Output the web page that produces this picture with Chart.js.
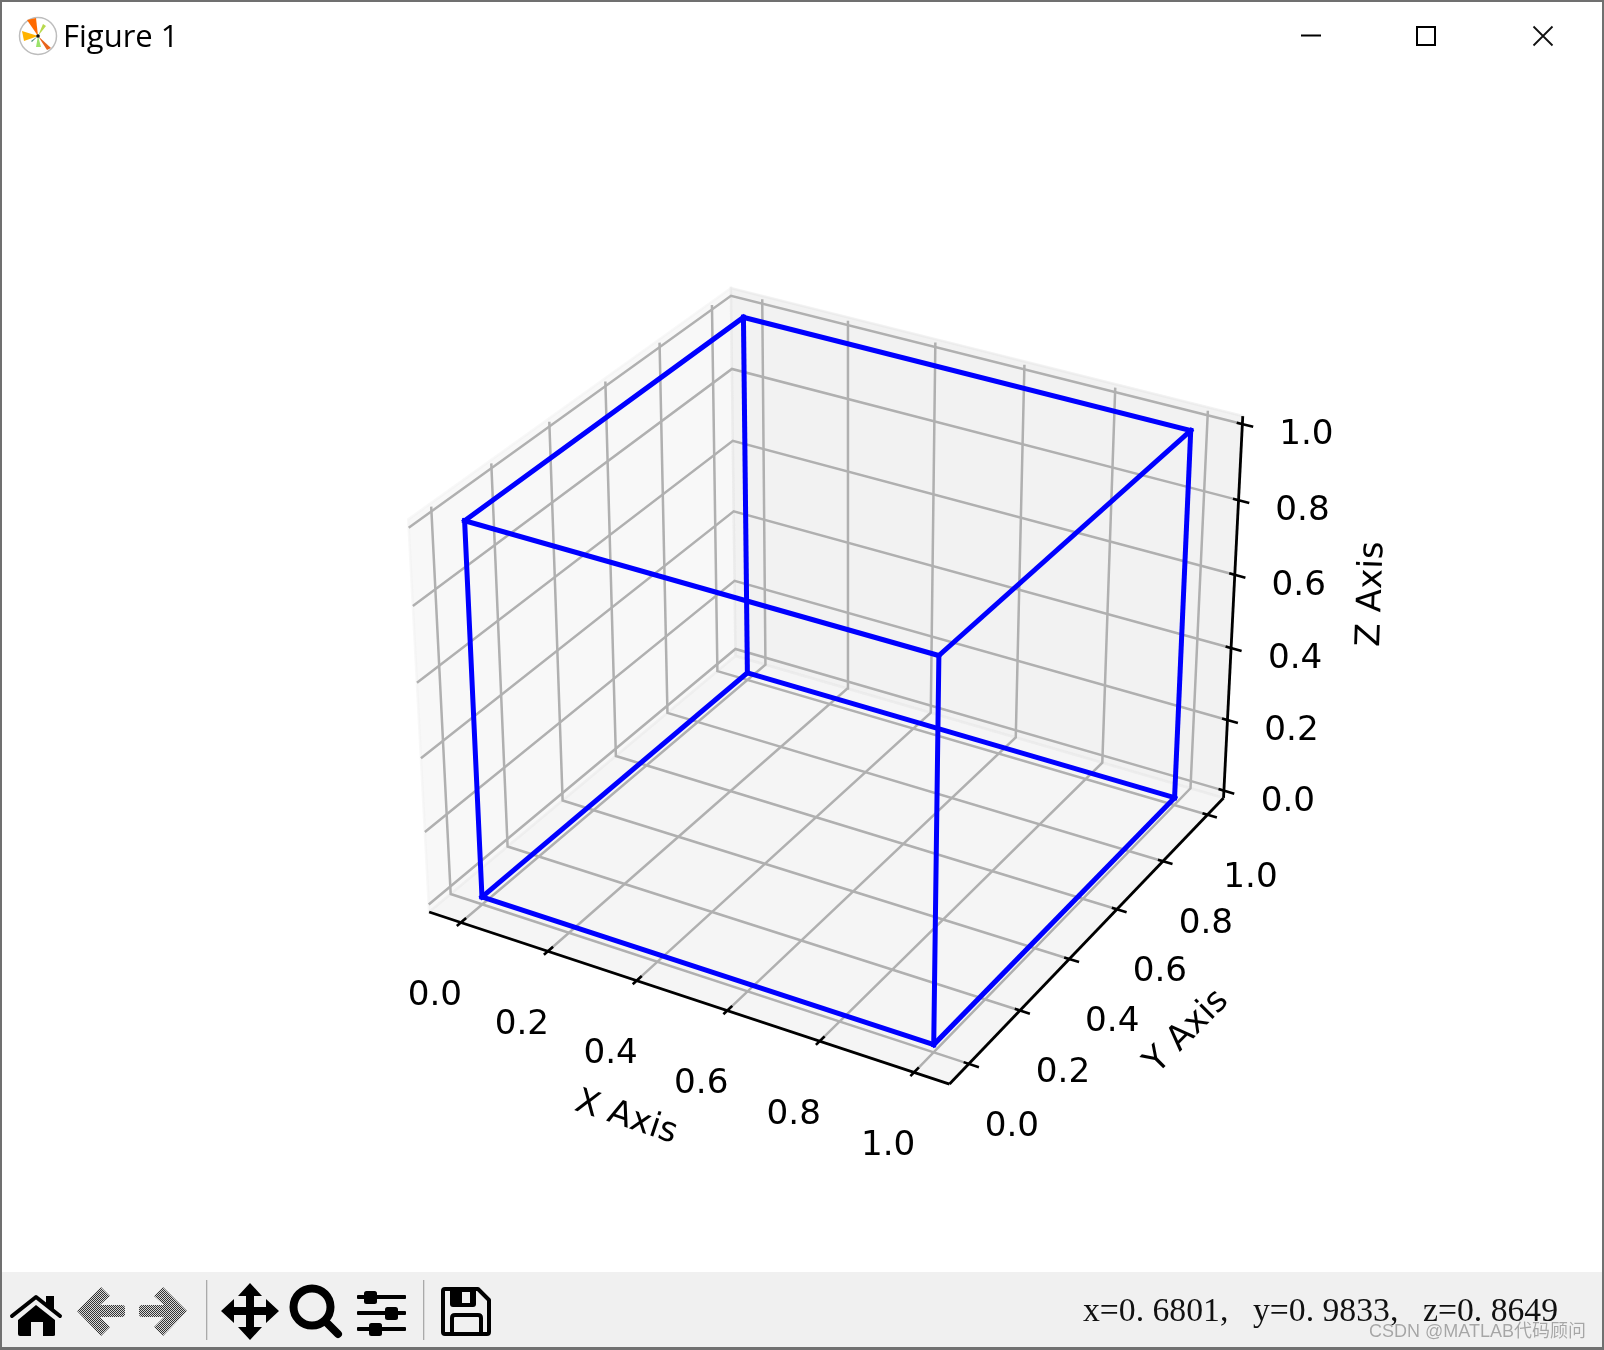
<!DOCTYPE html>
<html>
<head>
<meta charset="utf-8">
<title>Figure 1</title>
<script src="https://cdn.jsdelivr.net/npm/chart.js@4"></script>
<style>
html,body{margin:0;padding:0;background:#fff;width:1604px;height:1350px;overflow:hidden}
#wrap{position:relative;width:1604px;height:1350px;background:#fff}
#c{position:absolute;left:0;top:0;z-index:1}
.t{position:absolute;white-space:pre;z-index:3}
#toolbar{position:absolute;left:0;top:1272px;width:1604px;height:76px;background:#f0f0f0;z-index:0}
#frame{position:absolute;left:0;top:0;width:1604px;height:1350px;box-sizing:border-box;border:2px solid #707070;border-bottom-width:3px;z-index:2}
svg{position:absolute;left:0;top:0;z-index:3}
</style>
</head>
<body>
<div id="wrap">
<div id="toolbar"></div>
<canvas id="c" width="1604" height="1350"></canvas>
<div id="frame"></div>
<svg width="1604" height="1350" viewBox="0 0 1604 1350" xmlns="http://www.w3.org/2000/svg">
  <defs>
    <pattern id="dith" width="2" height="2" patternUnits="userSpaceOnUse">
      <rect width="2" height="2" fill="#d8d8d8"/><rect width="1" height="1" fill="#333"/><rect x="1" y="1" width="1" height="1" fill="#333"/>
    </pattern>
  </defs>
  <!-- app icon -->
  <circle cx="38" cy="36" r="18.5" fill="#fff" stroke="#bdbdbd" stroke-width="1.5"/>
  <path d="M38 36 L27 20 L36 18 Z" fill="#ff6a00"/>
  <path d="M38 36 L22 31 L24 41 Z" fill="#ffb300"/>
  <path d="M38 36 L51 48 L47 50 Z" fill="#e8641b"/>
  <path d="M38 36 L43 24 L46 26 Z" fill="#b7d94c"/>
  <path d="M38 36 L36 47 L41 47 Z" fill="#9be36b"/>
  <path d="M38 36 L31 41 L32 42 Z" fill="#4a8f7b"/>
  <circle cx="38" cy="36" r="1.8" fill="#111"/>
  <!-- window buttons -->
  <rect x="1301" y="34.5" width="20" height="2" fill="#000"/>
  <rect x="1417" y="27" width="18" height="18" fill="none" stroke="#000" stroke-width="2"/>
  <path d="M1533.5 26.5 L1552.5 45.5 M1552.5 26.5 L1533.5 45.5" stroke="#111" stroke-width="1.8" fill="none"/>
  <!-- home -->
  <path d="M12 1316 L36 1297 L60 1316" fill="none" stroke="#000" stroke-width="4" stroke-linecap="round" stroke-linejoin="round"/>
  <path d="M18 1320 L36 1305 L55 1320 L55 1335 Q55 1336 53 1336 L43 1336 L43 1322 L31 1322 L31 1336 L20 1336 Q18 1336 18 1334 Z M46 1296 L54 1296 L54 1312 L46 1305 Z" fill="#000"/>
  <!-- back / forward -->
  <path d="M77 1311 L101 1287 L110 1296 L100 1305 L122 1305 Q125 1305 125 1308 L125 1314 Q125 1317 122 1317 L100 1317 L110 1327 L101 1336 Z" fill="url(#dith)"/>
  <path d="M187 1311 L163 1287 L154 1296 L164 1305 L142 1305 Q139 1305 139 1308 L139 1314 Q139 1317 142 1317 L164 1317 L154 1327 L163 1336 Z" fill="url(#dith)"/>
  <rect x="206" y="1280" width="1.3" height="60" fill="#aaa"/>
  <!-- move -->
  <path d="M250 1283 L262 1296 L254 1296 L254 1307 L266 1307 L266 1299 L279 1311 L266 1323 L266 1315 L254 1315 L254 1327 L262 1327 L250 1340 L238 1327 L246 1327 L246 1315 L234 1315 L234 1323 L221 1311 L234 1299 L234 1307 L246 1307 L246 1296 L238 1296 Z" fill="#000"/>
  <!-- zoom -->
  <circle cx="312" cy="1307" r="18.5" fill="none" stroke="#000" stroke-width="8"/>
  <path d="M327 1323 L338 1334" stroke="#000" stroke-width="8" stroke-linecap="round"/>
  <!-- sliders -->
  <g fill="#000">
    <rect x="357" y="1295" width="49" height="4" rx="1"/><rect x="364" y="1291" width="13" height="13" rx="2.5"/>
    <rect x="357" y="1311" width="49" height="4" rx="1"/><rect x="385" y="1307" width="13" height="13" rx="2.5"/>
    <rect x="357" y="1327" width="49" height="4" rx="1"/><rect x="369" y="1323" width="13" height="13" rx="2.5"/>
  </g>
  <rect x="423" y="1280" width="1.3" height="60" fill="#aaa"/>
  <!-- save -->
  <path d="M445 1289 L478 1289 L489 1300 L489 1332 Q489 1334 487 1334 L445 1334 Q443 1334 443 1332 L443 1291 Q443 1289 445 1289 Z" fill="none" stroke="#000" stroke-width="4" stroke-linejoin="round"/>
  <path d="M450 1289 L476 1289 L476 1304 Q476 1307 473 1307 L453 1307 Q450 1307 450 1304 Z" fill="#000"/>
  <rect x="462" y="1292" width="8" height="11" fill="#f0f0f0"/>
  <path d="M452 1334 L452 1318 Q452 1315 455 1315 L478 1315 Q481 1315 481 1318 L481 1334" fill="none" stroke="#000" stroke-width="4"/>
</svg>
<div class="t" style="left:63px;top:14px;font:31px/43px 'Open Sans',sans-serif;color:#000">Figure 1</div>
<div class="t" style="left:1083px;top:1290px;font:33.7px/40px 'Liberation Serif',serif;color:#111">x=0. 6801,</div>
<div class="t" style="left:1253px;top:1290px;font:33.7px/40px 'Liberation Serif',serif;color:#111">y=0. 9833,</div>
<div class="t" style="left:1423px;top:1290px;font:33.7px/40px 'Liberation Serif',serif;color:#111">z=0. 8649</div>
<div class="t" style="left:1369px;top:1318px;font:18px/26px 'Liberation Sans','Noto Sans CJK SC',sans-serif;color:rgba(150,150,150,.85);text-shadow:0 0 1px rgba(255,255,255,.9)">CSDN @MATLAB代码顾问</div>
</div>

<script>
// ---- values (data coordinates) ----
const xTicks = [0, 0.2, 0.4, 0.6, 0.8, 1];
const yTicks = [0, 0.2, 0.4, 0.6, 0.8, 1];
const zTicks = [0, 0.2, 0.4, 0.6, 0.8, 1];
const tickLabels = ['0.0', '0.2', '0.4', '0.6', '0.8', '1.0'];
const cubeVertexX = [0, 1, 1, 0, 0, 1, 1, 0];
const cubeVertexY = [0, 0, 1, 1, 0, 0, 1, 1];
const cubeVertexZ = [0, 0, 0, 0, 1, 1, 1, 1];
const cubeEdgeStart = [0, 1, 2, 3, 4, 5, 6, 7, 0, 1, 2, 3];
const cubeEdgeEnd   = [1, 2, 3, 0, 5, 6, 7, 4, 4, 5, 6, 7];
const axisTitles = ['X Axis', 'Y Axis', 'Z Axis'];

// ---- axes box limits ----
const xMin = -0.074, xMax = 1.074, yMin = -0.074, yMax = 1.074, zMin = -0.0208, zMax = 1.0208;
const zGridTop = 1.012;

// ---- camera: elevation 30, azimuth -60, distance 10 ----
const CAM = {scale: 454, ox: 834.4, oy: 665, kxy: 1.1428, kz: 0.9448, dist: 10};
const u = [0.8660254, 0.5, 0], v = [-0.25, 0.4330127, 0.8660254], w = [0.4330127, -0.75, 0.5];
function project(x, y, z) {
  const X = (x - 0.5) * CAM.kxy, Y = (y - 0.5) * CAM.kxy, Z = (z - 0.5) * CAM.kz;
  const xc = u[0]*X + u[1]*Y + u[2]*Z;
  const yc = v[0]*X + v[1]*Y + v[2]*Z;
  const dc = w[0]*X + w[1]*Y + w[2]*Z;
  const d = CAM.dist - dc;
  return {x: CAM.ox + CAM.scale * xc * CAM.dist / d, y: CAM.oy - CAM.scale * yc * CAM.dist / d};
}
const path = pts => pts.map(p => project(p[0], p[1], p[2]));

const layers = []; // painted in this order
function pane(pts, rgba) {
  const closed = pts.concat([pts[0]]);
  layers.push({data: path(closed), showLine: true, fill: 'shape', backgroundColor: rgba,
    borderColor: rgba, borderWidth: 2.5, pointRadius: 0, tension: 0});
}
function line(pts, color, width, cap) {
  layers.push({data: path(pts), showLine: true, fill: false, borderColor: color, borderWidth: width,
    borderCapStyle: cap || 'butt', borderJoinStyle: 'miter', pointRadius: 0, tension: 0});
}

pane([[xMin,yMin,zMin],[xMin,yMax,zMin],[xMin,yMax,zMax],[xMin,yMin,zMax]], 'rgba(242,242,242,0.5)');
pane([[xMin,yMax,zMin],[xMax,yMax,zMin],[xMax,yMax,zMax],[xMin,yMax,zMax]], 'rgba(230,230,230,0.5)');
pane([[xMin,yMin,zMin],[xMax,yMin,zMin],[xMax,yMax,zMin],[xMin,yMax,zMin]], 'rgba(236,236,236,0.5)');

const GRID = '#b0b0b0';
xTicks.forEach(t => line([[t,yMin,zMin],[t,yMax,zMin],[t,yMax,zGridTop]], GRID, 2.5));
yTicks.forEach(t => line([[xMax,t,zMin],[xMin,t,zMin],[xMin,t,zGridTop]], GRID, 2.5));
zTicks.forEach(t => line([[xMax,yMax,t],[xMin,yMax,t],[xMin,yMin,t]], GRID, 2.5));

line([[xMin,yMin,zMin],[xMax,yMin,zMin]], '#000', 2.8);
line([[xMax,yMin,zMin],[xMax,yMax,zMin]], '#000', 2.8);
line([[xMax,yMax,zMin],[xMax,yMax,zMax]], '#000', 2.8);
xTicks.forEach(t => line([[t,yMin-0.014,zMin],[t,yMin+0.018,zMin]], '#000', 2.6));
yTicks.forEach(t => line([[xMax-0.011,t,zMin],[xMax+0.021,t,zMin]], '#000', 2.6));
zTicks.forEach(t => line([[xMax-0.012,yMax,t],[xMax+0.023,yMax,t]], '#000', 2.6));

cubeEdgeStart.forEach((a, i) => {
  const b = cubeEdgeEnd[i];
  line([[cubeVertexX[a],cubeVertexY[a],cubeVertexZ[a]],[cubeVertexX[b],cubeVertexY[b],cubeVertexZ[b]]], '#0000ff', 5, 'square');
});

const FONT = "34.2px 'DejaVu Sans'";
const labelsPlugin = {
  id: 'axes3dText',
  afterDraw(chart) {
    const c = chart.ctx;
    c.save();
    c.fillStyle = '#000';
    c.font = FONT;
    c.textAlign = 'center';
    c.textBaseline = 'middle';
    const put = (s, px, py, rot) => {
      c.save(); c.translate(px, py); c.rotate((rot || 0) * Math.PI / 180);
      c.fillText(s, 0, 0); c.restore();
    };
    xTicks.forEach((t, i) => { const p = project(t, yMin, zMin); put(tickLabels[i], p.x - 26, p.y + 73.5); });
    yTicks.forEach((t, i) => { const p = project(xMax, t, zMin); put(tickLabels[i], p.x + 43, p.y + 63); });
    zTicks.forEach((t, i) => { const p = project(xMax, yMax, t); put(tickLabels[i], p.x + 64, p.y + 11); });
    put(axisTitles[0], 626, 1118, 18.5);
    put(axisTitles[1], 1187, 1032, -45);
    put(axisTitles[2], 1372, 594, -88);
    c.restore();
  }
};

new Chart(document.getElementById('c'), {
  type: 'scatter',
  data: {datasets: layers.slice().reverse()},
  options: {
    responsive: false,
    animation: false,
    layout: {padding: 0},
    events: [],
    plugins: {legend: {display: false}, tooltip: {enabled: false}, title: {display: false}},
    scales: {
      x: {type: 'linear', display: false, min: 0, max: 1604},
      y: {type: 'linear', display: false, min: 0, max: 1350, reverse: true}
    }
  },
  plugins: [labelsPlugin]
});
</script>
</body>
</html>
